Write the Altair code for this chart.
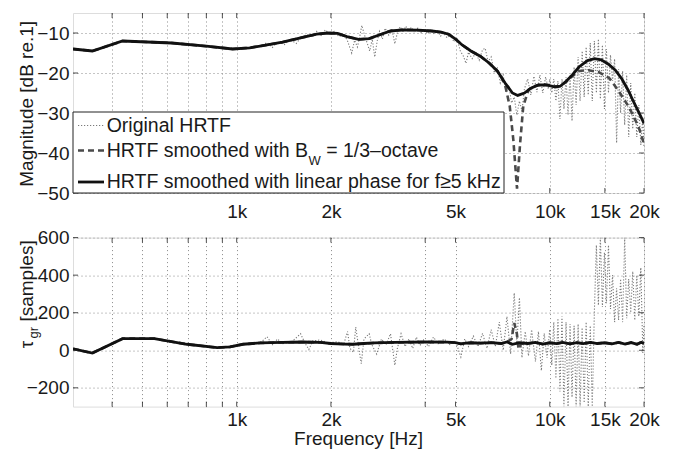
import altair as alt
import pandas as pd

FONT = "Liberation Sans"

# ---------------- axes ----------------
freq_ticks = [400, 500, 600, 700, 800, 900, 1000, 2000, 4000, 5000, 10000, 15000, 20000]
freq_labels = {1000: "1k", 2000: "2k", 5000: "5k", 10000: "10k", 15000: "15k", 20000: "20k"}
mag_ticks = [-50, -40, -30, -20, -10]
gd_ticks = [-200, 0, 200, 400, 600]

# ---------------- magnitude panel ----------------
orig_mag_f = [300, 346, 432, 620, 800, 970, 1100, 1200, 1250, 1300,
              1350, 1420, 1480, 1550, 1600, 1680, 1740, 1800, 1860, 1920,
              1980, 2050, 2120, 2200, 2260, 2330, 2380, 2430, 2470, 2510,
              2560, 2610, 2660, 2710, 2760, 2810, 2860, 2920, 2980, 3060,
              3130, 3200, 3270, 3330, 3400, 3470, 3540, 3610, 3700, 3790,
              3880, 3980, 4080, 4180, 4280, 4380, 4480, 4580, 4700, 4820,
              4940, 5060, 5180, 5300, 5400, 5500, 5650, 5800, 5950, 6100,
              6220, 6350, 6500, 6650, 6800, 6950, 7100, 7250, 7400, 7550,
              7700, 7850, 8000, 8150, 8300, 8500, 8700, 8900, 9100, 9300,
              9500, 9700, 9900,
              10000, 10150, 10300, 10460, 10620, 10780, 10940, 11100, 11270, 11440,
              11610, 11780, 11960, 12140, 12320, 12500, 12690, 12880, 13070, 13270,
              13470, 13670, 13880, 14090, 14300, 14510, 14730, 14950, 15170, 15400,
              15630, 15870, 16110, 16350, 16590, 16840, 17090, 17350, 17610, 17870,
              18140, 18410, 18690, 18970, 19250, 19540, 19830, 20000]
orig_mag = [-14.0, -14.5, -12.0, -12.5, -13.3, -14.0, -13.7, -13.2, -12.4, -13.6,
            -12.2, -12.9, -11.6, -12.6, -11.2, -10.4, -11.0, -9.6, -10.6, -9.2,
            -10.3, -9.6, -10.9, -10.3, -12.0, -15.0, -11.8, -13.5, -11.0, -8.1,
            -10.5, -12.5, -14.5, -11.5, -16.0, -12.0, -9.6, -11.5, -8.8, -10.5,
            -9.0, -12.7, -9.5, -8.4, -9.8, -8.3, -9.6, -8.6, -9.9, -8.8,
            -9.9, -9.0, -10.2, -9.1, -10.3, -9.5, -10.8, -10.0, -11.2, -10.4,
            -12.2, -11.5, -14.5, -15.8, -17.6, -14.8, -16.4, -15.0, -16.8, -14.2,
            -13.8, -17.2, -16.0, -20.0, -18.5, -22.5, -20.5, -24.8, -23.0, -27.5,
            -26.0, -30.5, -27.0, -29.5, -24.0, -21.5, -25.5, -20.8, -24.8, -20.5,
            -25.0, -21.0, -24.0,
            -21.5, -25.0, -21.5, -27.0, -22.0, -31.5, -21.5, -29.0, -21.0, -30.5,
            -20.5, -32.0, -18.5, -28.0, -16.0, -27.0, -14.5, -26.0, -13.5, -25.5,
            -12.5, -27.0, -12.0, -25.0, -11.5, -26.5, -13.0, -29.0, -14.0, -25.0,
            -15.5, -22.0, -16.5, -37.5, -19.0, -30.0, -19.5, -33.0, -20.5, -36.0,
            -22.5, -34.0, -25.0, -36.0, -28.0, -38.0, -31.0, -38.5]

lin_mag_f = [300, 346, 432, 620, 800, 970, 1100, 1200, 1400, 1600,
             1800, 1950, 2100, 2250, 2450, 2650, 2850, 3100, 3400, 3800,
             4200, 4500, 4750, 5000, 5250, 5600, 6000, 6400, 6800, 7200,
             7600, 7900, 8300, 8700, 9200, 9800, 10400, 10800, 11300, 11800,
             12400, 13200, 13900, 14600, 15400, 16200, 17000, 17800, 18600, 19300,
             20000]
lin_mag = [-14.0, -14.5, -12.0, -12.5, -13.3, -14.0, -13.7, -13.2, -12.3, -11.2,
           -10.3, -10.0, -10.1, -10.9, -11.6, -11.4, -10.5, -9.5, -9.2, -9.3,
           -9.5, -9.8, -10.3, -11.5, -13.0, -14.5, -15.8, -17.5, -19.5, -22.5,
           -25.0, -25.6, -25.0, -23.8, -23.0, -23.0, -23.5, -23.3, -22.0, -20.5,
           -18.5, -16.9, -16.4, -16.7, -17.8, -19.3, -21.5, -24.3, -27.5, -30.0,
           -32.6]

oct_mag_f = [300, 346, 432, 620, 800, 970, 1100, 1200, 1400, 1600,
             1800, 1950, 2100, 2250, 2450, 2650, 2850, 3100, 3400, 3800,
             4200, 4500, 4750, 5000, 5250, 5600, 6000, 6400, 6800, 7000,
             7200, 7450, 7650, 7860, 8040, 8230, 8550, 8900, 9500, 10200,
             10800, 11300, 11800, 12400, 13300, 14350, 15500, 16600, 17900, 19200,
             20000]
oct_mag = [-14.0, -14.5, -12.0, -12.5, -13.3, -14.0, -13.7, -13.2, -12.3, -11.2,
           -10.3, -10.0, -10.1, -10.9, -11.6, -11.4, -10.5, -9.5, -9.2, -9.3,
           -9.5, -9.8, -10.3, -11.5, -13.0, -14.5, -15.8, -17.5, -19.5, -21.0,
           -23.0, -28.3, -36.7, -48.9, -37.6, -28.3, -24.2, -23.3, -22.8, -23.3,
           -23.3, -22.2, -20.8, -19.5, -19.3, -19.8, -21.3, -24.5, -28.5, -33.4,
           -37.6]

# ---------------- group delay panel ----------------
orig_gd_f = [300, 346, 432, 546, 694, 866, 952, 1047, 1150, 1200,
             1250, 1300, 1350, 1400, 1500, 1600, 1650, 1700, 1750, 1850,
             1950, 2100, 2200, 2260, 2300, 2360, 2400, 2450, 2500, 2550,
             2650, 2700, 2800, 2900, 3000, 3100, 3200, 3260, 3350, 3450,
             3550, 3650, 3750, 3850, 3950, 4100, 4250, 4400, 4600, 4800,
             5000, 5200, 5350, 5500, 5700, 5900, 6100, 6300, 6500, 6700,
             6900, 7100, 7300, 7500, 7700, 7850, 8000, 8150, 8350, 8550,
             8750, 9000, 9200, 9400, 9600, 9800,
             10000, 10150, 10300, 10460, 10620, 10780, 10940, 11100, 11270, 11440,
             11610, 11780, 11960, 12140, 12320, 12500, 12690, 12880, 13070, 13270,
             13470, 13670, 13880, 14090, 14300, 14510, 14730, 14950, 15170, 15400,
             15630, 15870, 16110, 16350, 16590, 16840, 17090, 17350, 17610, 17870,
             18140, 18410, 18690, 18970, 19250, 19540, 19830, 20000]
orig_gd = [8, -15, 62, 62, 32, 14, 18, 32, 38, 45,
           72, 30, 60, 35, 45, 88, 40, 4, 50, 55,
           40, 45, 35, 100, 10, -10, 124, 20, -71, 60,
           88, 30, -20, 60, 30, 88, -80, 10, 88, 20,
           60, 10, 70, 25, 55, 20, 70, 35, 60, 30,
           50, -36, 60, 20, 75, 20, 90, 10, 110, 20,
           150, 0, 180, -20, 305, 30, 280, -40, 100, -30,
           110, -60, 100, -108, 90, -40,
           110, -80, 150, -150, 170, -220, 180, -300, 150, -300,
           140, -250, 130, -300, 140, -300, 120, -280, 150, -300,
           130, -300, 200, 560, 240, 600, 230, 520, 250, 560,
           220, 400, 150, 330, 160, 380, 150, 600, 170, 380,
           200, 420, 160, 400, 180, 440, -15, 140]

lin_gd_f = [300, 346, 432, 546, 694, 866, 952, 1047, 1188, 1400,
            1630, 1850, 2000, 2200, 2350, 2550, 2750, 3200, 4000, 4700,
            5000, 5200, 5400, 5600, 6000, 6500, 7000, 7300, 7600, 8000,
            8500, 9000, 9500, 10000, 10500, 11000, 11600, 12200, 12800, 13500,
            14200, 15000, 15800, 16600, 17400, 18200, 19000, 19600, 20000]
lin_gd = [8, -15, 62, 62, 32, 14, 18, 32, 39, 42,
          44, 42, 36, 33, 32, 36, 39, 42, 44, 43,
          41, 34, 38, 40, 38, 41, 36, 44, 32, 40,
          36, 42, 33, 40, 35, 42, 34, 41, 35, 42,
          36, 40, 34, 42, 33, 41, 32, 43, 36]

oct_gd_f = [300, 346, 432, 546, 694, 866, 952, 1047, 1188, 1400,
            1630, 1850, 2000, 2200, 2350, 2550, 2750, 3200, 4000, 4700,
            5000, 5200, 5400, 5600, 6000, 6500, 7000, 7300, 7550, 7700,
            7850, 7950, 8100, 8500, 9000, 9500, 10000, 10500, 11000, 11600,
            12200, 12800, 13500, 14200, 15000, 15800, 16600, 17400, 18200, 19000,
            19600, 20000]
oct_gd = [8, -15, 62, 62, 32, 14, 18, 32, 39, 42,
          44, 42, 36, 33, 32, 36, 39, 42, 44, 43,
          41, 34, 38, 40, 38, 41, 36, 44, 60, 145,
          90, 5, 35, 36, 42, 33, 40, 35, 42, 34,
          41, 35, 42, 36, 40, 34, 42, 33, 41, 32,
          43, 36]

# ---------------- texts ----------------
legend_texts = ["Original HRTF", "HRTF smoothed with B", "W", "= 1/3\u2013octave",
                "HRTF smoothed with linear phase for f\u22655 kHz"]
mag_title = "Magnitude [dB re.1]"
gd_title_parts = ["\u03c4", "gr", "[samples]"]
x_title = "Frequency [Hz]"

# ---------------- layout ----------------
W, H1, H2 = 571, 180, 169
TXT = "#1a1a1a"
GRID = "#8a8a8a"

xscale = alt.Scale(type="log", domain=[300, 20000], nice=False)
magscale = alt.Scale(domain=[-50, -5], nice=False, zero=False)
gdscale = alt.Scale(domain=[-300, 600], nice=False, zero=False)

lab_expr = " : ".join(f"datum.value == {k} ? '{v}'" for k, v in freq_labels.items()) + " : ''"
y_expr = "datum.value < 0 ? '\u2212' + format(-datum.value, 'd') : format(datum.value, 'd')"


def x_axis(pad):
    return alt.Axis(values=freq_ticks, labelExpr=lab_expr, grid=True, gridColor=GRID,
                    gridDash=[1, 3], gridWidth=1, ticks=False, domain=False,
                    labelFont=FONT, labelFontSize=19, labelColor=TXT, labelPadding=pad,
                    labelFlush=False, labelOverlap=False, labelBaseline="top", title=None)


def y_axis(vals):
    return alt.Axis(values=vals, labelExpr=y_expr, grid=True, gridColor=GRID,
                    gridDash=[1, 3], gridWidth=1, ticks=False, domain=False,
                    labelFont=FONT, labelFontSize=19, labelColor=TXT, labelPadding=4,
                    labelOverlap=False, title=None)


xa_top, xa_bot = x_axis(9), x_axis(4)
ya_top, ya_bot = y_axis(mag_ticks), y_axis(gd_ticks)
one = pd.DataFrame({"k": [0]})


def df(f, v):
    return pd.DataFrame({"f": f, "v": v})


def line(data, xa, ys, ya, style):
    return alt.Chart(data).mark_line(clip=True, **style).encode(
        x=alt.X("f:Q", scale=xscale, axis=xa),
        y=alt.Y("v:Q", scale=ys, axis=ya))


ORIG = dict(color="#7a7a7a", strokeWidth=1.1, strokeDash=[1.2, 1.8])
OCT = dict(color="#4a4a4a", strokeWidth=2.6, strokeDash=[6, 4])
LIN = dict(color="#111111", strokeWidth=2.8)


def inner_ticks(xa, ys, ya, yvals, h):
    xt = pd.DataFrame({"f": freq_ticks})
    yt = pd.DataFrame({"v": yvals})
    sty = dict(color="#222", strokeWidth=0.8)
    return [
        alt.Chart(xt).mark_rule(**sty).encode(x=alt.X("f:Q", scale=xscale, axis=xa),
                                              y=alt.value(0), y2=alt.value(5)),
        alt.Chart(xt).mark_rule(**sty).encode(x=alt.X("f:Q", scale=xscale, axis=xa),
                                              y=alt.value(h - 5), y2=alt.value(h)),
        alt.Chart(yt).mark_rule(**sty).encode(y=alt.Y("v:Q", scale=ys, axis=ya),
                                              x=alt.value(0), x2=alt.value(5)),
        alt.Chart(yt).mark_rule(**sty).encode(y=alt.Y("v:Q", scale=ys, axis=ya),
                                              x=alt.value(W - 5), x2=alt.value(W)),
    ]


def text(t, x, y, size=19, align="left", angle=0):
    return alt.Chart(pd.DataFrame({"t": [t]})).mark_text(
        font=FONT, fontSize=size, align=align, baseline="alphabetic", angle=angle,
        color=TXT).encode(text="t:N", x=alt.value(x), y=alt.value(y))


def sample(y, style):
    return alt.Chart(one).mark_rule(**style).encode(
        x=alt.value(5), x2=alt.value(31), y=alt.value(y))


top_layers = [
    line(df(orig_mag_f, orig_mag), xa_top, magscale, ya_top, ORIG),
    line(df(oct_mag_f, oct_mag), xa_top, magscale, ya_top, OCT),
    line(df(lin_mag_f, lin_mag), xa_top, magscale, ya_top, LIN),
    *inner_ticks(xa_top, magscale, ya_top, mag_ticks, H1),
    alt.Chart(one).mark_rect(fill="white", stroke="#222", strokeWidth=1).encode(
        x=alt.value(0), x2=alt.value(431), y=alt.value(99), y2=alt.value(180)),
    sample(112.5, ORIG),
    sample(137.5, OCT),
    sample(169, LIN),
    text(legend_texts[0], 33.7, 119, 19.5),
    text(legend_texts[1], 33.7, 144, 19.5),
    text(legend_texts[2], 235.5, 152.3, 13),
    text(legend_texts[3], 253.2, 144, 19.5),
    text(legend_texts[4], 33.7, 174.6, 19.5),
    text(mag_title, -40.5, 90.8, 19, "center", 270),
]
top = alt.layer(*top_layers).properties(width=W, height=H1)

bot_layers = [
    line(df(orig_gd_f, orig_gd), xa_bot, gdscale, ya_bot, ORIG),
    line(df(oct_gd_f, oct_gd), xa_bot, gdscale, ya_bot, OCT),
    line(df(lin_gd_f, lin_gd), xa_bot, gdscale, ya_bot, LIN),
    *inner_ticks(xa_bot, gdscale, ya_bot, gd_ticks, H2),
    text(gd_title_parts[0], -40.5, 110.7, 19, "left", 270),
    text(gd_title_parts[1], -35.5, 101.0, 13, "left", 270),
    text(gd_title_parts[2], -40.5, 84.0, 19, "left", 270),
    text(x_title, 285.5, 207.7, 19, "center"),
]
bottom = alt.layer(*bot_layers).properties(width=W, height=H2)

chart = alt.vconcat(top, bottom, spacing=44.6, bounds="flush").properties(
    padding={"left": 16, "top": 12, "right": 5, "bottom": 2},
    background="white",
).configure_view(stroke="#222", strokeWidth=1).configure(font=FONT)

chart.save("out.html", embed_options={"renderer": "svg", "actions": False})
